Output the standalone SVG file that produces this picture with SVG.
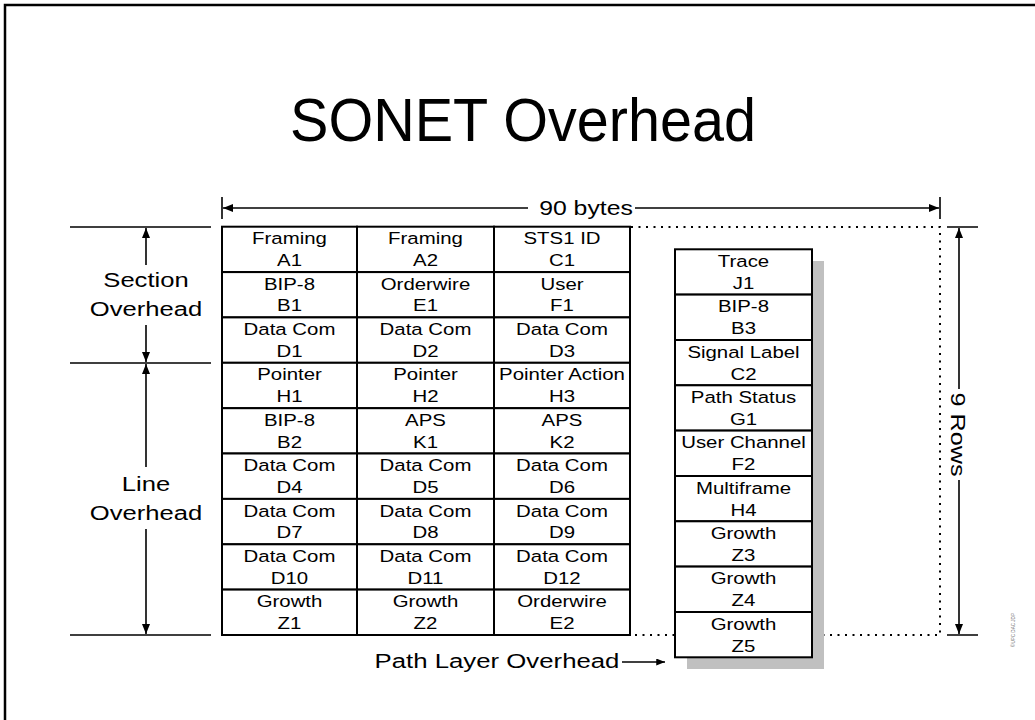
<svg xmlns="http://www.w3.org/2000/svg" width="1035" height="720" viewBox="0 0 1035 720">
  <style>
    text { font-family: "Liberation Sans", Arial, sans-serif; fill: #000; }
    .cell { fill: #fff; stroke: #000; stroke-width: 2; }
    .t { font-size: 17px; text-anchor: middle; }
    .lbl { font-size: 21px; text-anchor: middle; }
    .dim { fill: none; stroke: #000; stroke-width: 1.6; }
    .dot { fill: none; stroke: #000; stroke-width: 2; stroke-dasharray: 2 5.5; }
  </style>
  <defs>
    <marker id="ah" viewBox="0 0 10 8" refX="10" refY="4" markerWidth="10" markerHeight="8" markerUnits="userSpaceOnUse" orient="auto">
      <path d="M0,0 L10,4 L0,8 Z" fill="#000"/>
    </marker>
    <marker id="ahs" viewBox="0 0 10 8" refX="10" refY="4" markerWidth="9" markerHeight="7" markerUnits="userSpaceOnUse" orient="auto">
      <path d="M0,0 L10,4 L0,8 Z" fill="#000"/>
    </marker>
  </defs>

  <rect width="1035" height="720" fill="#fff"/>
  <!-- page frame (top and left edges) -->
  <path d="M5,720 V5 H1035" fill="none" stroke="#000" stroke-width="2.5"/>

  <text id="title" x="290" y="141" font-size="61" textLength="466" lengthAdjust="spacingAndGlyphs">SONET Overhead</text>

  <!-- connectors: dimension lines, arrows and dotted frame -->
  <g id="connectors">
    <!-- 90 bytes -->
    <path class="dim" d="M222,197 V219 M940,197 V219"/>
    <path class="dim" d="M528,208 H223" marker-end="url(#ah)"/>
    <path class="dim" d="M635,208 H939" marker-end="url(#ah)"/>
    <!-- left row bands -->
    <path class="dim" d="M70,227 H211 M70,363 H211 M70,635 H211"/>
    <path class="dim" d="M146,265 V228" marker-end="url(#ah)"/>
    <path class="dim" d="M146,325 V362" marker-end="url(#ah)"/>
    <path class="dim" d="M146,467 V364" marker-end="url(#ah)"/>
    <path class="dim" d="M146,529 V634" marker-end="url(#ah)"/>
    <!-- 9 rows -->
    <path class="dim" d="M947,227 H978 M947,635 H978"/>
    <path class="dim" d="M959,389 V228" marker-end="url(#ah)"/>
    <path class="dim" d="M959,480 V634" marker-end="url(#ah)"/>
    <!-- dotted outline of the frame -->
    <path class="dot" d="M631,227 H940 V635 H631"/>
    <!-- path layer pointer -->
    <path class="dim" d="M622,662 H665" marker-end="url(#ahs)"/>
  </g>

  <g id="labels">
    <text class="lbl" transform="matrix(1.22 0 0 1 146 286.7)">Section</text>
    <text class="lbl" transform="matrix(1.22 0 0 1 146 316)">Overhead</text>
    <text class="lbl" transform="matrix(1.22 0 0 1 146 491)">Line</text>
    <text class="lbl" transform="matrix(1.22 0 0 1 146 520)">Overhead</text>
    <text class="lbl" font-size="22" transform="matrix(1.18 0 0 1 586 215)">90 bytes</text>
    <text class="lbl" transform="translate(950.5 434.5) rotate(90) scale(1.2 1)">9 Rows</text>
    <text class="lbl" transform="matrix(1.227 0 0 1 497 668)">Path Layer Overhead</text>
    <text x="0" y="0" font-size="6" text-anchor="middle" textLength="34" lengthAdjust="spacingAndGlyphs" transform="translate(1015 630) rotate(-90)" style="fill:#707070">©UPC DAC JDP</text>
  </g>

  <!-- transport overhead: 3 columns x 9 rows -->
  <g id="transport-overhead">
    <g id="A1"><rect class="cell" x="222" y="226.7" width="135" height="45.4"/><text class="t" transform="matrix(1.2 0 0 1 289.5 244.3)">Framing</text><text class="t" transform="matrix(1.2 0 0 1 289.5 266)">A1</text></g>
    <g id="A2"><rect class="cell" x="357" y="226.7" width="137" height="45.4"/><text class="t" transform="matrix(1.2 0 0 1 425.5 244.3)">Framing</text><text class="t" transform="matrix(1.2 0 0 1 425.5 266)">A2</text></g>
    <g id="C1"><rect class="cell" x="494" y="226.7" width="136" height="45.4"/><text class="t" transform="matrix(1.2 0 0 1 562 244.3)">STS1 ID</text><text class="t" transform="matrix(1.2 0 0 1 562 266)">C1</text></g>

    <g id="B1"><rect class="cell" x="222" y="272.1" width="135" height="45.3"/><text class="t" transform="matrix(1.2 0 0 1 289.5 289.7)">BIP-8</text><text class="t" transform="matrix(1.2 0 0 1 289.5 311.4)">B1</text></g>
    <g id="E1"><rect class="cell" x="357" y="272.1" width="137" height="45.3"/><text class="t" transform="matrix(1.2 0 0 1 425.5 289.7)">Orderwire</text><text class="t" transform="matrix(1.2 0 0 1 425.5 311.4)">E1</text></g>
    <g id="F1"><rect class="cell" x="494" y="272.1" width="136" height="45.3"/><text class="t" transform="matrix(1.2 0 0 1 562 289.7)">User</text><text class="t" transform="matrix(1.2 0 0 1 562 311.4)">F1</text></g>

    <g id="D1"><rect class="cell" x="222" y="317.4" width="135" height="45.4"/><text class="t" transform="matrix(1.2 0 0 1 289.5 335)">Data Com</text><text class="t" transform="matrix(1.2 0 0 1 289.5 356.7)">D1</text></g>
    <g id="D2"><rect class="cell" x="357" y="317.4" width="137" height="45.4"/><text class="t" transform="matrix(1.2 0 0 1 425.5 335)">Data Com</text><text class="t" transform="matrix(1.2 0 0 1 425.5 356.7)">D2</text></g>
    <g id="D3"><rect class="cell" x="494" y="317.4" width="136" height="45.4"/><text class="t" transform="matrix(1.2 0 0 1 562 335)">Data Com</text><text class="t" transform="matrix(1.2 0 0 1 562 356.7)">D3</text></g>

    <g id="H1"><rect class="cell" x="222" y="362.8" width="135" height="45.4"/><text class="t" transform="matrix(1.2 0 0 1 289.5 380.4)">Pointer</text><text class="t" transform="matrix(1.2 0 0 1 289.5 402.1)">H1</text></g>
    <g id="H2"><rect class="cell" x="357" y="362.8" width="137" height="45.4"/><text class="t" transform="matrix(1.2 0 0 1 425.5 380.4)">Pointer</text><text class="t" transform="matrix(1.2 0 0 1 425.5 402.1)">H2</text></g>
    <g id="H3"><rect class="cell" x="494" y="362.8" width="136" height="45.4"/><text class="t" transform="matrix(1.2 0 0 1 562 380.4)">Pointer Action</text><text class="t" transform="matrix(1.2 0 0 1 562 402.1)">H3</text></g>

    <g id="B2"><rect class="cell" x="222" y="408.2" width="135" height="45.3"/><text class="t" transform="matrix(1.2 0 0 1 289.5 425.8)">BIP-8</text><text class="t" transform="matrix(1.2 0 0 1 289.5 447.5)">B2</text></g>
    <g id="K1"><rect class="cell" x="357" y="408.2" width="137" height="45.3"/><text class="t" transform="matrix(1.2 0 0 1 425.5 425.8)">APS</text><text class="t" transform="matrix(1.2 0 0 1 425.5 447.5)">K1</text></g>
    <g id="K2"><rect class="cell" x="494" y="408.2" width="136" height="45.3"/><text class="t" transform="matrix(1.2 0 0 1 562 425.8)">APS</text><text class="t" transform="matrix(1.2 0 0 1 562 447.5)">K2</text></g>

    <g id="D4"><rect class="cell" x="222" y="453.5" width="135" height="45.4"/><text class="t" transform="matrix(1.2 0 0 1 289.5 471.1)">Data Com</text><text class="t" transform="matrix(1.2 0 0 1 289.5 492.8)">D4</text></g>
    <g id="D5"><rect class="cell" x="357" y="453.5" width="137" height="45.4"/><text class="t" transform="matrix(1.2 0 0 1 425.5 471.1)">Data Com</text><text class="t" transform="matrix(1.2 0 0 1 425.5 492.8)">D5</text></g>
    <g id="D6"><rect class="cell" x="494" y="453.5" width="136" height="45.4"/><text class="t" transform="matrix(1.2 0 0 1 562 471.1)">Data Com</text><text class="t" transform="matrix(1.2 0 0 1 562 492.8)">D6</text></g>

    <g id="D7"><rect class="cell" x="222" y="498.9" width="135" height="45.4"/><text class="t" transform="matrix(1.2 0 0 1 289.5 516.5)">Data Com</text><text class="t" transform="matrix(1.2 0 0 1 289.5 538.2)">D7</text></g>
    <g id="D8"><rect class="cell" x="357" y="498.9" width="137" height="45.4"/><text class="t" transform="matrix(1.2 0 0 1 425.5 516.5)">Data Com</text><text class="t" transform="matrix(1.2 0 0 1 425.5 538.2)">D8</text></g>
    <g id="D9"><rect class="cell" x="494" y="498.9" width="136" height="45.4"/><text class="t" transform="matrix(1.2 0 0 1 562 516.5)">Data Com</text><text class="t" transform="matrix(1.2 0 0 1 562 538.2)">D9</text></g>

    <g id="D10"><rect class="cell" x="222" y="544.3" width="135" height="45.3"/><text class="t" transform="matrix(1.2 0 0 1 289.5 561.9)">Data Com</text><text class="t" transform="matrix(1.2 0 0 1 289.5 583.6)">D10</text></g>
    <g id="D11"><rect class="cell" x="357" y="544.3" width="137" height="45.3"/><text class="t" transform="matrix(1.2 0 0 1 425.5 561.9)">Data Com</text><text class="t" transform="matrix(1.2 0 0 1 425.5 583.6)">D11</text></g>
    <g id="D12"><rect class="cell" x="494" y="544.3" width="136" height="45.3"/><text class="t" transform="matrix(1.2 0 0 1 562 561.9)">Data Com</text><text class="t" transform="matrix(1.2 0 0 1 562 583.6)">D12</text></g>

    <g id="Z1"><rect class="cell" x="222" y="589.6" width="135" height="45.4"/><text class="t" transform="matrix(1.2 0 0 1 289.5 607.2)">Growth</text><text class="t" transform="matrix(1.2 0 0 1 289.5 628.9)">Z1</text></g>
    <g id="Z2"><rect class="cell" x="357" y="589.6" width="137" height="45.4"/><text class="t" transform="matrix(1.2 0 0 1 425.5 607.2)">Growth</text><text class="t" transform="matrix(1.2 0 0 1 425.5 628.9)">Z2</text></g>
    <g id="E2"><rect class="cell" x="494" y="589.6" width="136" height="45.4"/><text class="t" transform="matrix(1.2 0 0 1 562 607.2)">Orderwire</text><text class="t" transform="matrix(1.2 0 0 1 562 628.9)">E2</text></g>
  </g>

  <!-- path overhead column with drop shadow -->
  <g id="path-overhead">
    <rect x="687" y="261" width="137" height="408" fill="#c0c0c0"/>
    <g id="J1"><rect class="cell" x="675" y="249.3" width="137" height="45.3"/><text class="t" transform="matrix(1.2 0 0 1 743.5 266.8)">Trace</text><text class="t" transform="matrix(1.2 0 0 1 743.5 288.8)">J1</text></g>
    <g id="B3"><rect class="cell" x="675" y="294.6" width="137" height="45.4"/><text class="t" transform="matrix(1.2 0 0 1 743.5 312.1)">BIP-8</text><text class="t" transform="matrix(1.2 0 0 1 743.5 334.1)">B3</text></g>
    <g id="C2"><rect class="cell" x="675" y="340" width="137" height="45.3"/><text class="t" transform="matrix(1.2 0 0 1 743.5 357.5)">Signal Label</text><text class="t" transform="matrix(1.2 0 0 1 743.5 379.5)">C2</text></g>
    <g id="G1"><rect class="cell" x="675" y="385.3" width="137" height="45.3"/><text class="t" transform="matrix(1.2 0 0 1 743.5 402.8)">Path Status</text><text class="t" transform="matrix(1.2 0 0 1 743.5 424.8)">G1</text></g>
    <g id="F2"><rect class="cell" x="675" y="430.6" width="137" height="45.4"/><text class="t" transform="matrix(1.2 0 0 1 743.5 448.1)">User Channel</text><text class="t" transform="matrix(1.2 0 0 1 743.5 470.1)">F2</text></g>
    <g id="H4"><rect class="cell" x="675" y="476" width="137" height="45.3"/><text class="t" transform="matrix(1.2 0 0 1 743.5 493.5)">Multiframe</text><text class="t" transform="matrix(1.2 0 0 1 743.5 515.5)">H4</text></g>
    <g id="Z3"><rect class="cell" x="675" y="521.3" width="137" height="45.3"/><text class="t" transform="matrix(1.2 0 0 1 743.5 538.8)">Growth</text><text class="t" transform="matrix(1.2 0 0 1 743.5 560.8)">Z3</text></g>
    <g id="Z4"><rect class="cell" x="675" y="566.6" width="137" height="45.4"/><text class="t" transform="matrix(1.2 0 0 1 743.5 584.1)">Growth</text><text class="t" transform="matrix(1.2 0 0 1 743.5 606.1)">Z4</text></g>
    <g id="Z5"><rect class="cell" x="675" y="612" width="137" height="45.3"/><text class="t" transform="matrix(1.2 0 0 1 743.5 629.5)">Growth</text><text class="t" transform="matrix(1.2 0 0 1 743.5 651.5)">Z5</text></g>
  </g>
</svg>
